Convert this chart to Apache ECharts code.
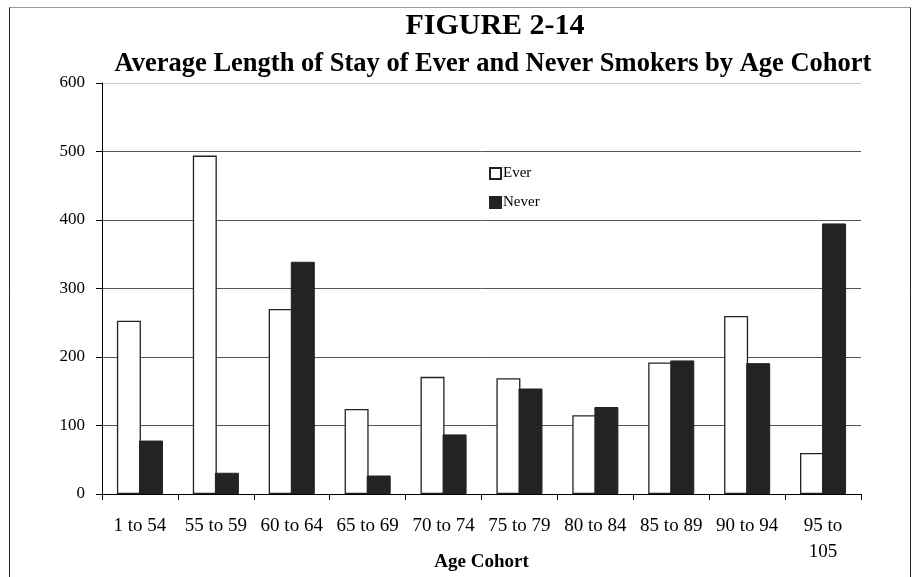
<!DOCTYPE html>
<html>
<head>
<meta charset="utf-8">
<style>
  html, body { margin: 0; padding: 0; background: #fff; }
  #chart { width: 914px; height: 577px; }
</style>
<script src="https://cdn.jsdelivr.net/npm/echarts@6/dist/echarts.min.js"></script>
</head>
<body>
<div id="chart"></div>
<script>
// Age cohorts along the x axis
const cohorts = ['1 to 54', '55 to 59', '60 to 64', '65 to 69', '70 to 74',
                 '75 to 79', '80 to 84', '85 to 89', '90 to 94', '95 to 105'];
// Average length of stay (days)
const everSmokers  = [253, 494, 270, 124, 171, 169, 115, 192, 260, 60];
const neverSmokers = [78, 31, 339, 27, 87, 154, 127, 195, 191, 395];
// Value axis ticks
const yTicks = [0, 100, 200, 300, 400, 500, 600];

const serif = '"Liberation Serif", "Times New Roman", serif';
const chart = echarts.init(document.getElementById('chart'), null, { renderer: 'canvas' });

chart.setOption({
  backgroundColor: '#fff',
  animation: false,
  title: [
    {
      text: 'FIGURE 2-14',
      left: 490, top: 6, textAlign: 'center',
      textStyle: { fontFamily: serif, fontWeight: 'bold', fontSize: 30, color: '#000' }
    },
    {
      text: 'Average Length of Stay of Ever and Never Smokers by Age Cohort',
      left: 488, top: 46, textAlign: 'center',
      textStyle: { fontFamily: serif, fontWeight: 'bold', fontSize: 26.5, color: '#000' }
    }
  ],
  legend: {
    orient: 'vertical',
    left: 484, top: 161,
    itemWidth: 11, itemHeight: 11, itemGap: 14,
    icon: 'rect',
    textStyle: { fontFamily: serif, fontSize: 15, color: '#000', padding: [0, 0, 0, -3] },
    data: ['Ever', 'Never']
  },
  grid: { left: 102, right: 53, top: 83, bottom: 83, containLabel: false, outerBoundsMode: 'none' },
  xAxis: {
    type: 'category',
    data: cohorts,
    boundaryGap: true,
    name: 'Age Cohort',
    nameLocation: 'middle',
    nameGap: 59,
    nameMoveOverlap: false,
    nameTextStyle: { fontFamily: serif, fontWeight: 'bold', fontSize: 19, color: '#000' },
    axisLine: { show: true, lineStyle: { color: '#000', width: 1 } },
    axisTick: { show: true, length: 6, lineStyle: { color: '#000' } },
    axisLabel: {
      fontFamily: serif, fontSize: 19, color: '#000', margin: 19, lineHeight: 26,
      interval: 0,
      formatter: v => v.length > 8 ? v.replace(/ (\S+)$/, '\n$1') : v
    }
  },
  yAxis: {
    type: 'value',
    min: yTicks[0], max: yTicks[yTicks.length - 1], interval: 100,
    axisLine: { show: true, lineStyle: { color: '#000', width: 1 } },
    axisTick: { show: true, length: 6, lineStyle: { color: '#000' } },
    axisLabel: { fontFamily: serif, fontSize: 17, color: '#000', margin: 17 },
    splitLine: {
      show: true,
      lineStyle: { color: ['#555', '#555', '#555', '#555', '#555', '#555', '#c8c8c8'], width: 1 }
    }
  },
  series: [
    {
      name: 'Ever', type: 'bar', data: everSmokers,
      barWidth: 24, barGap: '-8%',
      itemStyle: { color: '#fff', borderColor: '#222', borderWidth: 1.3 }
    },
    {
      name: 'Never', type: 'bar', data: neverSmokers,
      barWidth: 24,
      itemStyle: { color: '#232323', borderColor: '#232323', borderWidth: 1 }
    }
  ],
  graphic: [
    { type: 'line', shape: { x1: 9.5, y1: 7.5, x2: 910.5, y2: 7.5 }, style: { stroke: '#999', lineWidth: 1 } },
    { type: 'line', shape: { x1: 9.5, y1: 7.5, x2: 9.5, y2: 577 }, style: { stroke: '#222', lineWidth: 1 } },
    { type: 'line', shape: { x1: 910.5, y1: 7.5, x2: 910.5, y2: 577 }, style: { stroke: '#222', lineWidth: 1 } }
  ]
});
</script>
</body>
</html>
